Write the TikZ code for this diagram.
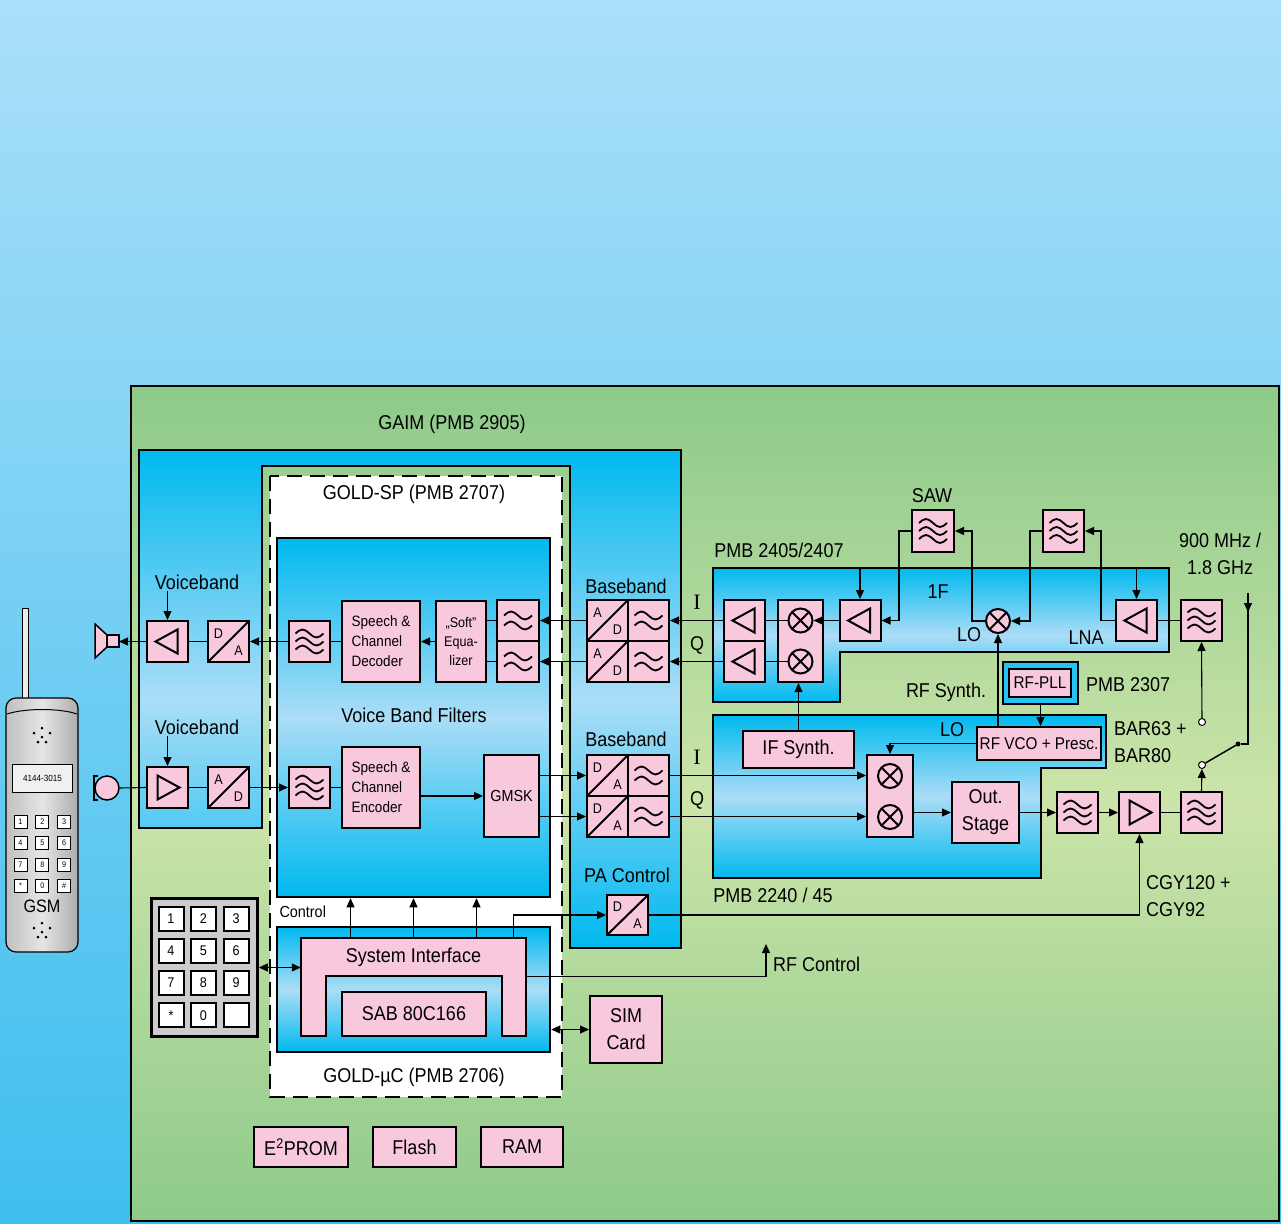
\documentclass[tikz,border=0pt]{standalone}
\usepackage{fontspec}
\setmainfont[FakeStretch=0.9]{Liberation Sans}
\newfontfamily\serifI{Liberation Serif}
\usetikzlibrary{arrows.meta}

\definecolor{pinkbox}{HTML}{F8C8DC}
\definecolor{deepblue}{HTML}{00B9EF}
\definecolor{paleblue}{HTML}{ABDDF6}
\definecolor{skytop}{HTML}{AADFF9}
\definecolor{skybot}{HTML}{3FBFEE}
\definecolor{greendark}{HTML}{8DCA8A}
\definecolor{greenlight}{HTML}{CCE4A9}

\newcommand{\fbig}{\fontsize{20}{27}\selectfont}
\newcommand{\fmid}{\fontsize{16}{20}\selectfont}
\newcommand{\fvco}{\fontsize{17}{20}\selectfont}
\newcommand{\fsm}{\fontsize{15}{20}\selectfont}
\newcommand{\fxs}{\fontsize{14}{19}\selectfont}
\newcommand{\fcv}{\fontsize{14}{16}\selectfont}
\newcommand{\fkey}{\fontsize{8}{9}\selectfont}
\newcommand{\fdisp}{\fontsize{9}{10}\selectfont}
\newcommand{\fgsm}{\fontsize{18}{20}\selectfont}
\newcommand{\fctl}{\fontsize{16}{18}\selectfont}

\tikzset{
  conn/.style={line width=1.1pt},
  bblk/.style={draw, line width=2.8pt, inner sep=0pt, top color=deepblue, bottom color=deepblue, middle color=paleblue},
  blk/.style={draw, line width=2pt, fill=pinkbox, inner sep=0pt, align=center},
  sq/.style={blk, minimum width=41pt, minimum height=41pt},
  ampl/.style={sq, path picture={\draw[line width=2pt, shift={(path picture bounding box.center)}] (-12,0) -- (10,-12) -- (10,12) -- cycle;}},
  ampr/.style={sq, path picture={\draw[line width=2pt, shift={(path picture bounding box.center)}] (12,0) -- (-10,-12) -- (-10,12) -- cycle;}},
  conv/.style 2 args={sq, path picture={
    \draw[line width=2pt] (path picture bounding box.south west) -- (path picture bounding box.north east);
    \node[draw=none, fill=none, inner sep=1pt, font=\fcv] at ([shift={(-10,-8)}]path picture bounding box.center) {#1};
    \node[draw=none, fill=none, inner sep=1pt, font=\fcv] at ([shift={(10,9)}]path picture bounding box.center) {#2};}},
  flt/.style={sq, path picture={\foreach \dy in {-8,0,8}
    \draw[line width=1.8pt, shift={(path picture bounding box.center)}] (-14,\dy) sin (-7,\dy-4) cos (0,\dy) sin (7,\dy+4) cos (14,\dy);}},
  fltb/.style={sq, path picture={\foreach \dy in {-5,5}
    \draw[line width=1.8pt, shift={(path picture bounding box.center)}] (-14,\dy) sin (-7,\dy-4) cos (0,\dy) sin (7,\dy+4) cos (14,\dy);}},
  mixc/.style={circle, draw, line width=2pt, fill=pinkbox, minimum size=24pt, inner sep=0pt,
    path picture={\draw[line width=2pt] (path picture bounding box.north west) -- (path picture bounding box.south east)
      (path picture bounding box.south west) -- (path picture bounding box.north east);}},
  lbl/.style={font=\fbig, inner sep=1pt}
}

\begin{document}
\begin{tikzpicture}[x=1pt,y=-1pt,>={Triangle[length=9pt,width=8pt]}]
	% background
	\useasboundingbox (0,0) rectangle (1281,1223);
	\shade[top color=skytop,bottom color=skybot] (0,0) rectangle (1281,1223);
	\draw[line width=2.8pt,top color=greendark,bottom color=greendark,middle color=greenlight] (131,386) rectangle (1279,1221);
	% the phone
	\draw[line width=1pt, fill=gray!15] (22,608) rectangle (28,701);
	\draw[line width=1.2pt, rounded corners=10pt, left color=gray!50, right color=gray!65, middle color=gray!20] (6,698) rectangle (78,952);
	\draw[line width=1pt] (7,714) .. controls (25,708) and (60,708) .. (77,714);
	\node[draw, line width=1pt, fill=gray!12, minimum width=60pt, minimum height=28pt, inner sep=0pt, font=\fdisp] (disp) at (42.5,778) {4144-3015};
	\foreach \k [count=\i from 0] in {1,2,3,4,5,6,7,8,9,*,0,\#} {
		\pgfmathtruncatemacro\c{mod(\i,3)}
		\pgfmathtruncatemacro\r{int(\i/3)}
		\node[draw, fill=white, line width=0.8pt, minimum size=13pt, inner sep=0pt, font=\fkey] at (20.5+21.8*\c,821.5+21.5*\r) {\k};
	}
	\node[font=\fgsm] (gsm) at (42,906) {GSM};
	\foreach \p in {(42,728),(34,733),(50,733),(42,737),(38,742),(46,742)} \fill \p circle (1.5);
	\foreach \p in {(42,923),(34,928),(50,928),(42,932),(38,937),(46,937)} \fill \p circle (1.5);
	% GAIM block
	\draw[bblk] (139,450) -- (681,450) -- (681,948) -- (570,948) -- (570,466) -- (262,466) -- (262,828) -- (139,828) -- cycle;
	\node[lbl] (gaim) at (452,424) {GAIM (PMB 2905)};
	% GOLD area
	\draw[line width=2.8pt, dash pattern=on 15pt off 8pt, fill=white] (270,476) rectangle (562,1097);
	\node[lbl] (goldsp) at (414,494) {GOLD-SP (PMB 2707)};
	\node[lbl] (goldmc) at (414,1077) {GOLD-µC (PMB 2706)};
	\node[bblk, line width=2.5pt, minimum width=273pt, minimum height=359pt] (sp) at (413.5,717.5) {};
	\node[bblk, line width=2.5pt, minimum width=273pt, minimum height=125pt] (gmc) at (413.5,989.5) {};
	\node[lbl] (vbf) at (414,715) {Voice Band Filters};
	\node[font=\fctl, anchor=west] (ctl) at (276,912) {Control};
	% voiceband out
	\node[lbl] (vbO) at (197,582) {Voiceband};
	\node[ampl] (ampO) at (167.5,641.5) {};
	\node[conv={D}{A}] (daO) at (228.5,641.5) {};
	\draw[line width=1.5pt, fill=pinkbox] (95,624) -- (107,635) -- (107,647) -- (95,658) -- cycle;
	\draw[line width=1.5pt, fill=pinkbox] (107,635) rectangle (119,647);
	\coordinate (spk) at (119,641.5);
	% voiceband in
	\node[lbl] (vbI) at (197,727) {Voiceband};
	\node[ampr] (ampI) at (167.5,787.5) {};
	\node[conv={A}{D}] (adV) at (228.5,787.5) {};
	\node[circle, draw, line width=1.5pt, fill=pinkbox, minimum size=24pt, inner sep=0pt] (mic) at (107,788) {};
	\draw[line width=2pt] (98,776) -- (94,776) -- (94,800) -- (98,800);
	% speech path
	\node[flt] (fO) at (309.5,641.5) {};
	\node[blk, align=left, minimum width=78pt, minimum height=81pt, font=\fsm] (dec) at (381,641.5) {Speech \&\\Channel\\Decoder};
	\node[blk, minimum width=50pt, minimum height=81pt, font=\fxs] (eq) at (461,641.5) {„Soft"\\Equa-\\lizer};
	\node[fltb, minimum width=42pt] (fI) at (518,620.5) {};
	\node[fltb, minimum width=42pt] (fQ) at (518,661.5) {};
	\node[flt] (fE) at (309.5,787.5) {};
	\node[blk, align=left, minimum width=78pt, minimum height=81pt, font=\fsm] (enc) at (381,787.5) {Speech \&\\Channel\\Encoder};
	\node[blk, minimum width=55pt, minimum height=82pt, font=\fmid] (gmsk) at (511.5,796) {GMSK};
	% baseband
	\node[lbl] (bbR) at (626,586) {Baseband};
	\node[conv={A}{D}] (adI) at (607.5,620.5) {};
	\node[fltb] (bfI) at (648.5,620.5) {};
	\node[conv={A}{D}] (adQ) at (607.5,661.5) {};
	\node[fltb] (bfQ) at (648.5,661.5) {};
	\node[lbl] (bbT) at (626,739) {Baseband};
	\node[conv={D}{A}] (daI) at (607.5,775.5) {};
	\node[fltb] (btI) at (648.5,775.5) {};
	\node[conv={D}{A}] (daQ) at (607.5,816.5) {};
	\node[fltb] (btQ) at (648.5,816.5) {};
	\node[lbl] (pac) at (627,875) {PA Control};
	\node[conv={D}{A}, minimum height=40pt] (daPA) at (627.5,915) {};
	\node[font={\serifI\fontsize{22}{24}\selectfont}] at (697,602) {I};
	\node[lbl] at (697,645) {Q};
	\node[font={\serifI\fontsize{22}{24}\selectfont}] at (697,757) {I};
	\node[lbl] at (697,800) {Q};
	% system interface
	\draw[line width=2pt, fill=pinkbox] (301,1036) -- (301,938) -- (526,938) -- (526,1036) -- (502,1036) -- (502,976) -- (326,976) -- (326,1036) -- cycle;
	\node[inner sep=0pt, minimum width=225pt, minimum height=38pt, font=\fbig] (sif) at (413.5,957.5) {System Interface};
	\node[blk, minimum width=144pt, minimum height=44pt, font=\fbig] (sab) at (414,1014) {SAB 80C166};
	% keypad
	\node[draw, line width=2.5pt, fill=gray!40, minimum width=106pt, minimum height=138pt] (kp) at (204.5,967.5) {};
	\foreach \k [count=\i from 0] in {1,2,3,4,5,6,7,8,9,*,0,{}} {
		\pgfmathtruncatemacro\c{mod(\i,3)}
		\pgfmathtruncatemacro\r{int(\i/3)}
		\node[draw, fill=white, line width=2pt, minimum width=25pt, minimum height=24pt, inner sep=0pt, font=\fcv] at (171+32.5*\c,918.5+32.3*\r) {\k};
	}
	% memories and SIM
	\node[blk, minimum width=94pt, minimum height=40pt, font=\fbig] (eprom) at (301,1147) {E\textsuperscript{2}PROM};
	\node[blk, minimum width=83pt, minimum height=40pt, font=\fbig] (flash) at (414.5,1147) {Flash};
	\node[blk, minimum width=82pt, minimum height=40pt, font=\fbig] (ram) at (522,1147) {RAM};
	\node[blk, minimum width=72pt, minimum height=67pt, font=\fbig] (sim) at (626,1029.5) {SIM\\Card};
	% RF receiver
	\draw[bblk] (713,568) -- (1169,568) -- (1169,652) -- (840,652) -- (840,702) -- (713,702) -- cycle;
	\coordinate (rxtop) at (713,568);
	\node[lbl] (rxname) at (779,550) {PMB 2405/2407};
	\node[ampl] (rA1) at (744.5,620.5) {};
	\node[ampl] (rA2) at (744.5,661.5) {};
	\node[blk, minimum width=45pt, minimum height=82pt] (rxm) at (800.5,641) {};
	\node[mixc] (rxm1) at (800.5,620.5) {};
	\node[mixc] (rxm2) at (800.5,661.5) {};
	\node[ampl] (ifa) at (860,620.5) {};
	\node[flt, minimum width=42pt, minimum height=42pt] (saw) at (933,531) {};
	\node[lbl] (sawl) at (932,496) {SAW};
	\node[mixc] (rfm) at (998,621) {};
	\node[flt, minimum height=42pt] (f2) at (1063.5,531) {};
	\node[ampl] (lna) at (1136.5,620.5) {};
	\node[flt] (af) at (1201.5,620.5) {};
	\node[lbl] at (938,592) {1F};
	\node[lbl] at (969,635) {LO};
	\node[lbl] at (1086,638) {LNA};
	\node[lbl, align=center] (band) at (1220,554) {900 MHz /\\1.8 GHz};
	% RF synthesizer and transmitter
	\node[draw, line width=2.8pt, fill=deepblue!85, minimum width=75pt, minimum height=42pt] (pllf) at (1040.5,683) {};
	\node[blk, minimum width=62pt, minimum height=28pt, font=\fvco] (pll) at (1040,683) {RF-PLL};
	\node[lbl, anchor=west] at (1085,685) {PMB 2307};
	\draw[bblk] (713,715) -- (1106,715) -- (1106,768) -- (1041,768) -- (1041,878) -- (713,878) -- cycle;
	\node[lbl] at (946,692) {RF Synth.};
	\node[lbl] at (773,895) {PMB 2240 / 45};
	\node[lbl] at (952,730) {LO};
	\node[blk, minimum width=111pt, minimum height=37pt, font=\fbig] (ifs) at (798.5,749.5) {IF Synth.};
	\node[blk, minimum width=124pt, minimum height=33pt, font=\fvco] (vco) at (1039,743.5) {RF VCO + Presc.};
	\node[blk, minimum width=46pt, minimum height=82pt] (txm) at (890,796) {};
	\node[mixc] (txm1) at (890,776) {};
	\node[mixc] (txm2) at (890,817) {};
	\node[blk, minimum width=67pt, minimum height=61pt, font=\fbig] (outs) at (985.5,812.5) {Out.\\Stage};
	\node[flt] (tf1) at (1077.5,812.5) {};
	\node[ampr] (pa) at (1139.5,812.5) {};
	\node[flt] (tf3) at (1201.5,812.5) {};
	\node[lbl, align=left, anchor=west] at (1113,742) {BAR63 +\\BAR80};
	\node[lbl, align=left, anchor=west] at (1145,896) {CGY120 +\\CGY92};
	\node[lbl, anchor=west] (rfc) at (772,964) {RF Control};
	\coordinate (rfctl) at (766,944);
	% antenna switch
	\coordinate (ant) at (1248,593);
	\coordinate (swk) at (1248,744);
	\node[circle, fill, inner sep=0pt, minimum size=5pt] (swp) at (1238,744) {};
	\node[circle, draw, fill=white, line width=1pt, inner sep=0pt, minimum size=7pt] (sw1) at (1202,722) {};
	\node[circle, draw, fill=white, line width=1pt, inner sep=0pt, minimum size=7pt] (sw2) at (1202,765) {};
	% connectors, voiceband
	\draw[conn,->] (ampO.west) -- (spk);
	\draw[conn] (daO.west) -- (ampO.east);
	\draw[conn,->] (fO.west) -- (daO.east);
	\draw[conn,->] (vbO.south -| ampO.north) -- (ampO.north);
	\draw[conn] (mic.east) -- (ampI.west);
	\draw[conn] (ampI.east) -- (adV.west);
	\draw[conn,->] (adV.east) -- (fE.west);
	\draw[conn,->] (vbI.south -| ampI.north) -- (ampI.north);
	% connectors, speech processor
	\draw[conn] (fO.east) -- (dec.west);
	\draw[conn,->] (eq.west) -- (dec.east);
	\draw[conn] (eq.east |- fI.west) -- (fI.west);
	\draw[conn] (eq.east |- fQ.west) -- (fQ.west);
	\draw[conn,->] (adI.west) -- (fI.east);
	\draw[conn,->] (adQ.west) -- (fQ.east);
	\draw[conn] (fE.east) -- (enc.west);
	\draw[conn,->] (enc.east |- gmsk.west) -- (gmsk.west);
	\draw[conn,->] (gmsk.east |- daI.west) -- (daI.west);
	\draw[conn,->] (gmsk.east |- daQ.west) -- (daQ.west);
	% connectors, controller
	\foreach \dx in {-63,0,63}
		\draw[conn,->] ([xshift=\dx pt]sif.north) -- ([xshift=\dx pt]sif.north |- sp.south);
	\draw[conn,->] ([xshift=100pt]sif.north) |- (daPA.west);
	\draw[conn,->] ([yshift=-19pt]sif.east) -| (rfctl);
	\draw[conn,<->] (kp.east) -- (kp.east -| sif.west);
	\draw[conn,<->] (gmc.east |- sim.west) -- (sim.west);
	% connectors, receiver
	\draw[conn,->] (rA1.west) -- (bfI.east);
	\draw[conn,->] (rA2.west) -- (bfQ.east);
	\draw[conn] (rA1.east) -- (rxm1.west);
	\draw[conn] (rA2.east) -- (rxm2.west);
	\draw[conn,->] (ifa.west) -- (rxm1.east);
	\draw[conn,->] (ifa.north |- rxtop) -- (ifa.north);
	\draw[conn,->] (saw.west) -- ++(-12,0) |- (ifa.east);
	\draw[conn,->] (rfm.west) -- ++(-13,0) |- (saw.east);
	\draw[conn,->] (f2.west) -- ++(-12,0) |- (rfm.east);
	\draw[conn,->] (lna.west) -- ++(-14,0) |- (f2.east);
	\draw[conn,->] (lna.north |- rxtop) -- (lna.north);
	\draw[conn] (lna.east) -- (af.west);
	% connectors, synthesizer and transmitter
	\draw[conn,->] (ifs.north) -- (ifs.north |- rxm.south);
	\draw[conn,->] (vco.north -| rfm.south) -- (rfm.south);
	\draw[conn,->] (pllf.south) -- (pllf.south |- vco.north);
	\draw[conn,->] (vco.west) -| (txm.north);
	\draw[conn,->] (btI.east) -- (txm.west |- btI.east);
	\draw[conn,->] (btQ.east) -- (txm.west |- btQ.east);
	\draw[conn,->] (txm.east |- outs.west) -- (outs.west);
	\draw[conn,->] (outs.east) -- (tf1.west);
	\draw[conn,->] (tf1.east) -- (pa.west);
	\draw[conn] (pa.east) -- (tf3.west);
	\draw[conn,->] (daPA.east) -| (pa.south);
	% antenna and switch
	\draw[conn] (ant) -- (swk) -- (swp);
	\draw[conn,->] (ant) -- ++(0,19);
	\draw[line width=1.5pt] (swp) -- (sw2);
	\draw[conn,->] (sw1) -- (af.south);
	\draw[conn,->] (tf3.north) -- (sw2);
\end{tikzpicture}
\end{document}
